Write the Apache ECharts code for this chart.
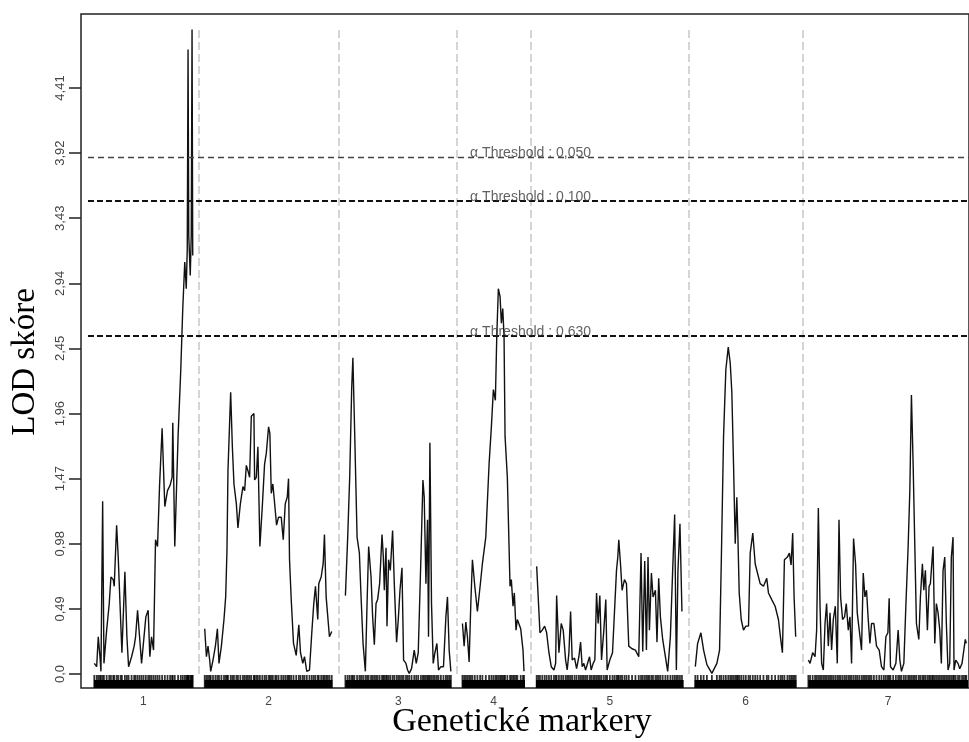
<!DOCTYPE html>
<html>
<head>
<meta charset="utf-8">
<title>LOD skóre</title>
<script src="https://cdn.jsdelivr.net/npm/echarts@6.0.0/dist/echarts.min.js"></script>
<style>
  html, body { margin: 0; padding: 0; background: #fff; }
  #chart { width: 969px; height: 742px; }
</style>
</head>
<body>
<div id="chart"></div>
<script>
// chromosomes laid end to end on one genome axis (cM), with gaps between them
const chromosomes = ["1", "2", "3", "4", "5", "6", "7"];
const chrStart = [13, 124, 265, 382, 456, 615, 729];
const chrLength = [99, 128, 106, 63, 148, 102, 160];

// LOD profile per chromosome: [position within chromosome (cM), LOD]
const lod1 = [[0.3,0.08],[2.7,0.055],[4.3,0.28],[6,0.13],[7,0.02],[8.7,1.30],[10,0.08],[12.7,0.33],[15.3,0.53],[17,0.73],
  [19.3,0.71],[20.3,0.66],[22.7,1.12],[24.3,0.88],[26.7,0.41],[28,0.16],[31,0.77],[33,0.28],[34.7,0.055],[37.7,0.13],
  [40.3,0.21],[41.7,0.28],[43.7,0.48],[45.7,0.28],[47.7,0.08],[49.7,0.08],[52,0.43],[54.3,0.48],[56,0.13],[57.7,0.28],
  [59.7,0.18],[61.7,1.01],[63.7,0.96],[65.7,1.41],[68.3,1.85],[71,1.26],[73.7,1.38],[76.3,1.42],[78.3,1.48],[79,1.89],
  [81,0.96],[84.3,1.79],[87,2.29],[89,2.75],[91,3.10],[92.5,2.90],[93.5,3.20],[94.3,4.70],[95,3.30],[96.5,3.00],
  [97.5,3.30],[98.3,4.85],[99,3.15]];
const lod2 = [[0,0.34],[1.7,0.13],[3.3,0.21],[5,0.105],[6,0.02],[8.3,0.105],[10.7,0.21],[12.7,0.34],[14.3,0.08],[16.7,0.21],
  [19.3,0.41],[21,0.58],[22.3,0.93],[23.3,1.53],[26,2.12],[27.7,1.71],[29.3,1.43],[31.7,1.28],[33.3,1.10],[35.7,1.28],
  [38.3,1.41],[40,1.38],[41.7,1.57],[43.3,1.53],[45,1.48],[46.7,1.94],[49.3,1.96],[50,1.46],[51.7,1.48],[53.3,1.71],
  [55.3,0.96],[57.7,1.26],[60,1.58],[61.7,1.66],[64,1.86],[65.3,1.81],[66.7,1.36],[68.3,1.43],[70.7,1.23],[72,1.12],
  [74,1.18],[76.7,1.18],[78.7,1.01],[80.7,1.28],[82.7,1.33],[84,1.47],[85,0.86],[86.7,0.56],[89,0.23],[91.7,0.14],
  [94.3,0.37],[96,0.16],[98.3,0.08],[100,0.13],[102.3,0.02],[105,0.03],[107.3,0.31],[109.3,0.53],[111,0.66],[113.3,0.41],
  [114.3,0.68],[116.7,0.73],[118.7,0.83],[120,1.05],[121.7,0.58],[123.3,0.58],[125,0.28],[127.3,0.32]];
const lod3 = [[0,0.59],[2.3,1.03],[4.3,1.48],[6.3,2.15],[7.5,2.38],[9,1.91],[11.7,1.03],[14,0.91],[15.7,0.58],[17.7,0.23],
  [20,0.02],[21.7,0.53],[23.3,0.96],[25.7,0.73],[27.3,0.43],[29,0.22],[30.7,0.53],[32.3,0.56],[34.3,0.68],[36.7,1.05],
  [38,0.88],[39,0.63],[40.7,0.95],[41.7,0.36],[43.3,0.86],[45,0.78],[47.3,1.08],[49,0.68],[51.3,0.24],[53,0.41],
  [54.7,0.63],[56.7,0.80],[58.3,0.105],[60.7,0.08],[62.3,0.03],[64,0.005],[66.3,0.04],[69,0.18],[71,0.08],[73,0.16],
  [75.7,0.88],[77.7,1.46],[79,1.33],[80.7,0.68],[82.3,1.16],[83.3,0.28],[84.7,1.74],[86.3,0.53],[88,0.08],[89.7,0.16],
  [91.7,0.23],[93.3,0.03],[95.7,0.055],[98.3,0.055],[100.7,0.43],[102.3,0.58],[104,0.18],[105.7,0.02]];
const lod4 = [[0.3,0.38],[2,0.21],[3.7,0.39],[5.3,0.28],[7,0.09],[8.7,0.53],[10.3,0.86],[12.7,0.66],[15.3,0.47],[18,0.66],
  [20.3,0.83],[23.7,1.03],[27,1.58],[29.3,1.86],[31.3,2.14],[33.3,2.06],[34.7,2.54],[36.3,2.90],[38,2.84],[39.3,2.64],
  [40.7,2.75],[42,2.54],[43,1.79],[45.3,1.48],[48,0.66],[49.3,0.71],[51,0.51],[52.3,0.61],[54,0.33],[55.3,0.41],
  [58.7,0.34],[61,0.18],[62,0.02]];
const lod5 = [[0.7,0.81],[2.3,0.81],[4,0.31],[6.3,0.33],[8.7,0.36],[10.7,0.31],[13,0.16],[15.3,0.055],[18,0.03],[19.7,0.08],
  [20.7,0.59],[23,0.16],[25.3,0.38],[27.3,0.33],[29.7,0.105],[31.3,0.03],[33,0.16],[34.7,0.47],[36.3,0.105],[38.7,0.12],
  [40.7,0.04],[43,0.13],[44.7,0.24],[46.3,0.055],[48,0.08],[49.7,0.03],[51.3,0.07],[53.7,0.13],[55.3,0.03],[57.3,0.08],
  [59,0.105],[60.7,0.61],[62.3,0.38],[64,0.59],[65.7,0.105],[68,0.33],[70,0.56],[71.3,0.03],[74,0.105],[76.7,0.16],
  [78.7,0.16],[80.7,0.78],[82,0.88],[83,1.01],[84.7,0.83],[86.3,0.63],[88.7,0.71],[90.7,0.68],[93,0.21],[96.3,0.19],
  [99.7,0.18],[103,0.13],[105.3,0.91],[107,0.17],[109,0.85],[110.7,0.18],[112.3,0.88],[113.7,0.33],[115.7,0.76],[117.3,0.58],
  [119.7,0.63],[121.3,0.24],[123,0.72],[124.7,0.43],[127,0.26],[129.7,0.13],[132,0.02],[134.7,0.28],[137,0.78],[139,1.20],
  [140.7,0.03],[142.3,0.78],[144.3,1.13],[146.3,0.47]];
const lod6 = [[0.7,0.055],[3,0.23],[6.3,0.31],[9,0.18],[12.3,0.07],[17.3,0.005],[22.3,0.08],[25,0.18],[26.7,0.83],[29,1.79],
  [31.3,2.29],[33.7,2.46],[35.7,2.34],[37.3,2.12],[39,1.58],[40.7,0.98],[42.3,1.33],[43.3,1.06],[44.7,0.61],[46.7,0.41],
  [49,0.33],[51.3,0.36],[54,0.36],[55.7,0.91],[58.3,1.06],[60.7,0.83],[63,0.76],[65.7,0.68],[69,0.66],[72.3,0.72],
  [74,0.61],[77.3,0.56],[80.7,0.51],[84,0.41],[86.3,0.26],[88,0.16],[90,0.86],[93,0.88],[95,0.91],[96.7,0.82],
  [98.3,1.06],[99.7,0.58],[101.3,0.28]];
const lod7 = [[0,0.105],[1.7,0.08],[4.3,0.16],[6.7,0.13],[8.3,0.33],[10,1.25],[11.7,0.51],[13.3,0.08],[15,0.03],[16.7,0.38],
  [18.3,0.53],[20,0.21],[21.7,0.46],[23.3,0.18],[25,0.41],[27,0.51],[29,0.08],[30.7,1.16],[32.3,0.58],[34.3,0.41],
  [36.3,0.43],[38,0.53],[40,0.33],[41.7,0.43],[43.3,0.08],[45.3,1.02],[47.3,0.83],[49,0.46],[51,0.33],[53.3,0.18],
  [55,0.76],[56.7,0.58],[58.3,0.63],[60,0.41],[61.7,0.23],[63.3,0.38],[65.7,0.38],[68.3,0.21],[71,0.18],[73.3,0.055],
  [75.7,0.03],[77.7,0.28],[79.7,0.31],[81,0.57],[82.3,0.055],[85,0.03],[87.7,0.08],[90,0.33],[91.7,0.105],[93.3,0.02],
  [95.7,0.08],[97.7,0.51],[100,0.96],[101.7,1.38],[103.3,2.10],[105,1.58],[106.7,0.96],[108.3,0.38],[110.7,0.26],[112.3,0.58],
  [114.3,0.83],[115.7,0.63],[117.3,0.78],[119.3,0.33],[121,0.66],[122.3,0.68],[124,0.86],[125,0.96],[126.7,0.23],[128.3,0.53],
  [130,0.46],[131.7,0.33],[133.3,0.08],[135,0.78],[136.7,0.88],[138.3,0.38],[140,0.03],[141.7,0.08],[143.3,0.88],[145,1.03],
  [146,0.03],[147.7,0.105],[150,0.08],[151.7,0.04],[154,0.08],[155.7,0.08],[157.3,0.26],[158.3,0.23]];
const lodByChr = [lod1, lod2, lod3, lod4, lod5, lod6, lod7];

// permutation thresholds
const thresholdLevels = [3.886, 3.56, 2.544];
const thresholdLabels = ["α Threshold : 0,050", "α Threshold : 0,100", "α Threshold : 0,630"];

const yTickValues = [0, 0.49, 0.98, 1.47, 1.96, 2.45, 2.94, 3.43, 3.92, 4.41];
const yTickLabels = ["0,0", "0,49", "0,98", "1,47", "1,96", "2,45", "2,94", "3,43", "3,92", "4,41"];

const X_MAX = 890;
const Y_MIN = -0.1054;
const Y_MAX = 4.967;

const chart = echarts.init(document.getElementById("chart"), null, { renderer: "canvas" });

const chrMid = chrStart.map((s, i) => s + chrLength[i] / 2);
// separators halfway between the end of one chromosome and the start of the next
const separators = chrStart.slice(1).map((s, i) => (chrStart[i] + chrLength[i] + s) / 2);

const series = [];

lodByChr.forEach((pts, i) => {
  series.push({
    type: "line",
    data: pts.map(p => [chrStart[i] + p[0], p[1]]),
    symbol: "none",
    lineStyle: { color: "#111", width: 1.4 },
    z: 4,
    silent: true,
    animation: false
  });
  // solid marker bar under each chromosome
  series.push({
    type: "line",
    data: [[chrStart[i], -0.0753], [chrStart[i] + chrLength[i], -0.0753]],
    symbol: "none",
    lineStyle: { color: "#000", width: 8, cap: "butt" },
    z: 5,
    silent: true,
    animation: false
  });
});

// marker rug ticks
series.push({
  type: "scatter",
  data: lodByChr.flatMap((pts, i) => pts.map(p => [chrStart[i] + p[0], -0.0564])),
  symbol: "rect",
  symbolSize: [1.8, 13],
  itemStyle: { color: "#000" },
  z: 5,
  silent: true,
  animation: false
});

// separators + thresholds
series.push({
  type: "line",
  data: [],
  silent: true,
  animation: false,
  markLine: {
    silent: true,
    symbol: ["none", "none"],
    animation: false,
    label: { show: false },
    data: separators.map(x => [
      { coord: [x, 0], lineStyle: { color: "#c8c8c8", width: 1.5, type: [8, 4] } },
      { coord: [x, 4.86] }
    ]).concat(thresholdLevels.map((v, i) => [
      { coord: [7, v], lineStyle: i === 0 ? { color: "#444", width: 1.3, type: [6, 4] } : { color: "#111", width: 2, type: [6, 3] } },
      { coord: [X_MAX, v] }
    ]))
  }
});

// threshold labels
series.push({
  type: "scatter",
  data: thresholdLevels.map((v, i) => ({ value: [390, v], label: { formatter: thresholdLabels[i] } })),
  symbolSize: 0,
  silent: true,
  animation: false,
  z: 6,
  label: {
    show: true,
    position: "right",
    distance: 0,
    offset: [0, -4],
    color: "#3a3a3a",
    fontSize: 14,
    fontFamily: "Liberation Sans, Arial, sans-serif"
  }
});

chart.setOption({
  animation: false,
  backgroundColor: "#fff",
  grid: { left: 81, top: 14, width: X_MAX, bottom: 54, show: true, borderColor: "#222", borderWidth: 1.5 },
  xAxis: {
    type: "value",
    min: 0,
    max: X_MAX,
    axisLine: { show: false },
    axisTick: { show: false },
    splitLine: { show: false },
    axisLabel: {
      customValues: chrMid,
      formatter: v => chromosomes[chrMid.indexOf(v)],
      color: "#444",
      fontSize: 12,
      margin: 8,
      fontFamily: "Liberation Sans, Arial, sans-serif"
    }
  },
  yAxis: {
    type: "value",
    min: Y_MIN,
    max: Y_MAX,
    axisLine: { show: false },
    splitLine: { show: false },
    axisTick: { show: true, customValues: yTickValues, length: 12, lineStyle: { color: "#222", width: 1.5 } },
    axisLabel: {
      customValues: yTickValues,
      formatter: v => yTickLabels[yTickValues.indexOf(v)],
      rotate: 90,
      margin: 14,
      color: "#444",
      fontSize: 13,
      fontFamily: "Liberation Sans, Arial, sans-serif"
    }
  },
  graphic: [
    {
      type: "text",
      x: 25,
      y: 362,
      rotation: Math.PI / 2,
      style: {
        text: "LOD skóre",
        font: "33px 'Liberation Serif', 'Times New Roman', serif",
        fill: "#000",
        align: "center",
        verticalAlign: "middle"
      }
    },
    {
      type: "text",
      x: 522,
      y: 722,
      style: {
        text: "Genetické markery",
        font: "34px 'Liberation Serif', 'Times New Roman', serif",
        fill: "#000",
        align: "center",
        verticalAlign: "middle"
      }
    }
  ],
  series: series
});
</script>
</body>
</html>
